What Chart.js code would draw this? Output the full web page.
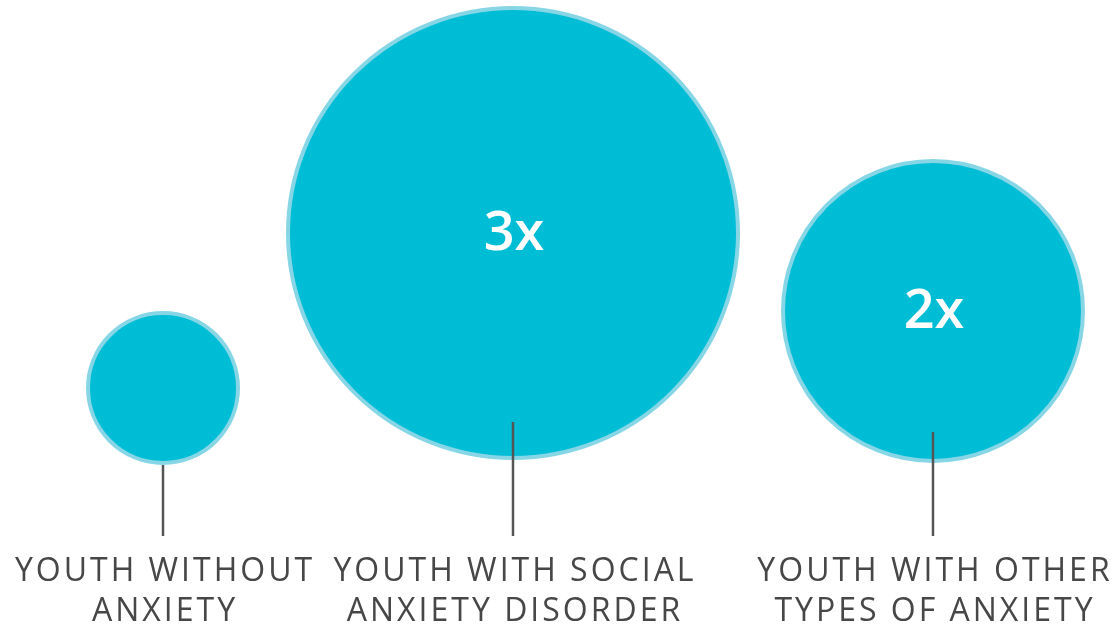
<!DOCTYPE html>
<html>
<head>
<meta charset="utf-8">
<script src="https://cdn.jsdelivr.net/npm/chart.js@4"></script>
<style>
  body { margin: 0; background: #fff; }
  #wrap { width: 1114px; height: 628px; }
</style>
</head>
<body>
<div id="wrap"><canvas id="grafico"></canvas></div>
<script>
// groups and how many times more likely compared to youth without anxiety
const grupos = [
  ['YOUTH WITHOUT', 'ANXIETY'],
  ['YOUTH WITH SOCIAL', 'ANXIETY DISORDER'],
  ['YOUTH WITH OTHER', 'TYPES OF ANXIETY']
];
const multiplicador = [1, 3, 2];
const rotulos = ['', '3x', '2x'];

// layout (pixel units of the hidden axes)
const posX = [163, 513, 933];
const posY = [388, 233, 311];
const topoLinha = [465, 422, 432];
const baseLinha = 536;
const raioBase = 75;

const pluginTextos = {
  id: 'textos',
  afterDatasetsDraw(chart) {
    const ctx = chart.ctx;
    const meta = chart.getDatasetMeta(0);
    const sy = chart.scales.y;
    ctx.save();
    meta.data.forEach((pt, i) => {
      // connector line
      ctx.strokeStyle = '#555555';
      ctx.lineWidth = 2.5;
      ctx.beginPath();
      ctx.moveTo(pt.x, sy.getPixelForValue(topoLinha[i]));
      ctx.lineTo(pt.x, sy.getPixelForValue(baseLinha));
      ctx.stroke();

      // value inside the circle
      if (rotulos[i]) {
        ctx.fillStyle = '#ffffff';
        ctx.font = '600 54px "Open Sans"';
        ctx.textAlign = 'center';
        ctx.textBaseline = 'middle';
        ctx.letterSpacing = '0px';
        ctx.fillText(rotulos[i], pt.x + 1, pt.y + 2);
      }

      // group name below
      ctx.fillStyle = '#474747';
      ctx.font = '500 32px "Open Sans"';
      ctx.textAlign = 'center';
      ctx.textBaseline = 'middle';
      ctx.letterSpacing = '3px';
      grupos[i].forEach((linha, j) => {
        ctx.fillText(linha, pt.x + 2, 572 + j * 40);
      });
    });
    ctx.restore();
  }
};

const ctx = document.getElementById('grafico').getContext('2d');
new Chart(ctx, {
  type: 'bubble',
  data: {
    datasets: [{
      data: multiplicador.map((m, i) => ({ x: posX[i], y: posY[i], r: m * raioBase })),
      backgroundColor: '#00bdd6',
      borderColor: '#86d6e6',
      borderWidth: 4,
      clip: false
    }]
  },
  options: {
    responsive: true,
    maintainAspectRatio: false,
    animation: false,
    events: [],
    layout: { padding: 0, autoPadding: false },
    plugins: { legend: { display: false }, tooltip: { enabled: false } },
    scales: {
      x: { type: 'linear', min: 0, max: 1114, display: false },
      y: { type: 'linear', min: 0, max: 628, reverse: true, display: false }
    }
  },
  plugins: [pluginTextos]
});
</script>
</body>
</html>
